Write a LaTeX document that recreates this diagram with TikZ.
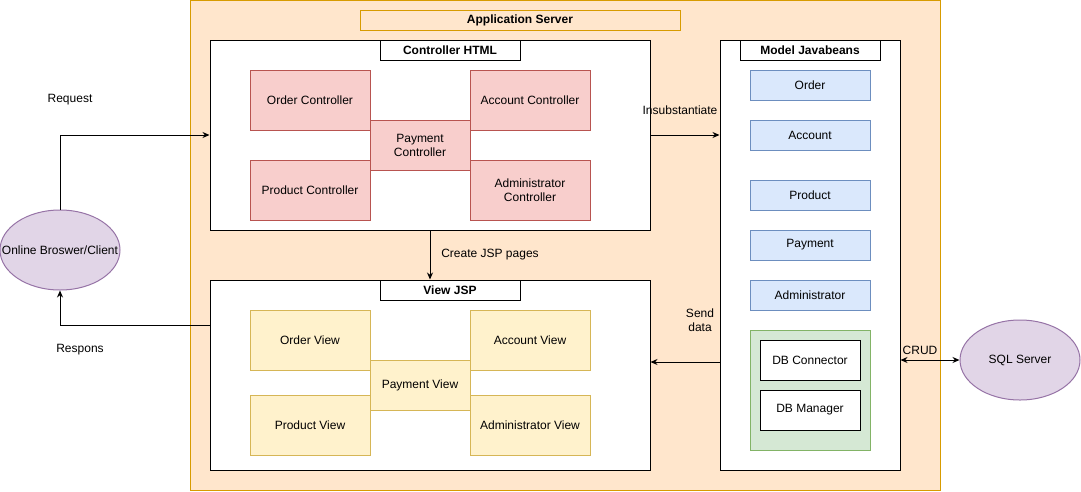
\documentclass[tikz,border=0pt]{standalone}
\usepackage{fontspec}
\setmainfont{Liberation Sans}
\usepackage{tikz}
\usetikzlibrary{arrows.meta, positioning, shapes.geometric}

\definecolor{srvfill}{HTML}{FFE6CC}
\definecolor{srvline}{HTML}{D79B00}
\definecolor{ctrlfill}{HTML}{F8CECC}
\definecolor{ctrlline}{HTML}{B85450}
\definecolor{viewfill}{HTML}{FFF2CC}
\definecolor{viewline}{HTML}{D6B656}
\definecolor{beanfill}{HTML}{DAE8FC}
\definecolor{beanline}{HTML}{6C8EBF}
\definecolor{dbfill}{HTML}{D5E8D4}
\definecolor{dbline}{HTML}{82B366}
\definecolor{clientfill}{HTML}{E1D5E7}
\definecolor{clientline}{HTML}{9673A6}

\begin{document}
\begin{tikzpicture}[x=1pt, y=-1pt, line width=1pt,
            every node/.style={font=\fontsize{12}{14}\selectfont, inner sep=0pt, align=center},
            titlebox/.style={draw, fill=white, minimum width=140, minimum height=20, font=\fontsize{12}{14}\selectfont\bfseries},
            ctrlbox/.style={draw=ctrlline, fill=ctrlfill, minimum width=120, minimum height=60},
            viewbox/.style={draw=viewline, fill=viewfill, minimum width=120, minimum height=60},
            beanbox/.style={draw=beanline, fill=beanfill, minimum width=120, minimum height=30},
            client/.style={ellipse, draw=clientline, fill=clientfill, minimum width=120, minimum height=80},
            arr/.style={-{Stealth[length=7pt, width=6pt]}},
        ]
        \useasboundingbox (0,0) rectangle (1081,491);
        % application server
        \node (srv) at (565,245) [draw=srvline, fill=srvfill, minimum width=750, minimum height=490] {};
        \node (srvt) at (520,20) [draw=srvline, fill=srvfill, minimum width=320, minimum height=20, font=\fontsize{12}{14}\selectfont\bfseries] {Application Server};
        % controller
        \node (ctrl) at (430,135) [draw, fill=white, minimum width=440, minimum height=190] {};
        \node (ctrlt) at (450,50) [titlebox] {Controller HTML};
        \node (oc) at (310,100) [ctrlbox] {Order Controller};
        \node (ac) at (530,100) [ctrlbox] {Account Controller};
        \node (pdc) at (310,190) [ctrlbox] {Product Controller};
        \node (adc) at (530,190) [ctrlbox] {Administrator\\Controller};
        \node (pc) at (420,145) [ctrlbox, minimum width=100, minimum height=50] {Payment\\Controller};
        % view
        \node (view) at (430,375) [draw, fill=white, minimum width=440, minimum height=190] {};
        \node (viewt) at (450,290) [titlebox] {View JSP};
        \node (ov) at (310,340) [viewbox] {Order View};
        \node (av) at (530,340) [viewbox] {Account View};
        \node (pdv) at (310,425) [viewbox] {Product View};
        \node (adv) at (530,425) [viewbox] {Administrator View};
        \node (pv) at (420,385) [viewbox, minimum width=100, minimum height=50] {Payment View};
        % model
        \node (model) at (810,255) [draw, fill=white, minimum width=180, minimum height=430] {};
        \node (modelt) at (810,50) [titlebox] {Model Javabeans};
        \node (bo) at (810,85) [beanbox] {Order};
        \node (ba) at (810,135) [beanbox] {Account};
        \node (bpd) at (810,195) [beanbox] {Product};
        \node (bp) at (810,245) [beanbox] {Payment};
        \node (bad) at (810,295) [beanbox] {Administrator};
        \node (db) at (810,390) [draw=dbline, fill=dbfill, minimum width=120, minimum height=120] {};
        \node (dbc) at (810,360) [draw, fill=white, minimum width=100, minimum height=40] {DB Connector};
        \node (dbm) at (810,410) [draw, fill=white, minimum width=100, minimum height=40] {DB Manager};
        % outside
        \node (cl) at (60,250) [client, label=center:{Online Broswer/Client}] {};
        \node (sql) at (1020,360) [client, label=center:{SQL Server}] {};
        % connectors
        \draw[arr] (cl.north) |- (ctrl.west);
        \draw[arr] ([yshift=50pt]view.west) -| (cl.south);
        \draw[arr] (ctrl.east) -- (ctrl.east -| model.west);
        \draw[arr] (ctrl.south) -- (view.north);
        \draw[arr] ([yshift=13pt]view.east -| model.west) -- ([yshift=13pt]view.east);
        \draw[{Stealth[length=7pt, width=6pt]}-{Stealth[length=7pt, width=6pt]}] (sql.west -| model.east) -- (sql.west);
        % labels
        \node (lreq) at (70,100) {Request};
        \node (lres) at (80,350) {Respons};
        \node (lins) at (680,110) {Insubstantiate};
        \node (ljsp) at (490,255) {Create JSP pages};
        \node (lsend) at (700,320) {Send\\data};
        \node (lcrud) at (920,350) {CRUD};
        \end{tikzpicture}
\end{document}
